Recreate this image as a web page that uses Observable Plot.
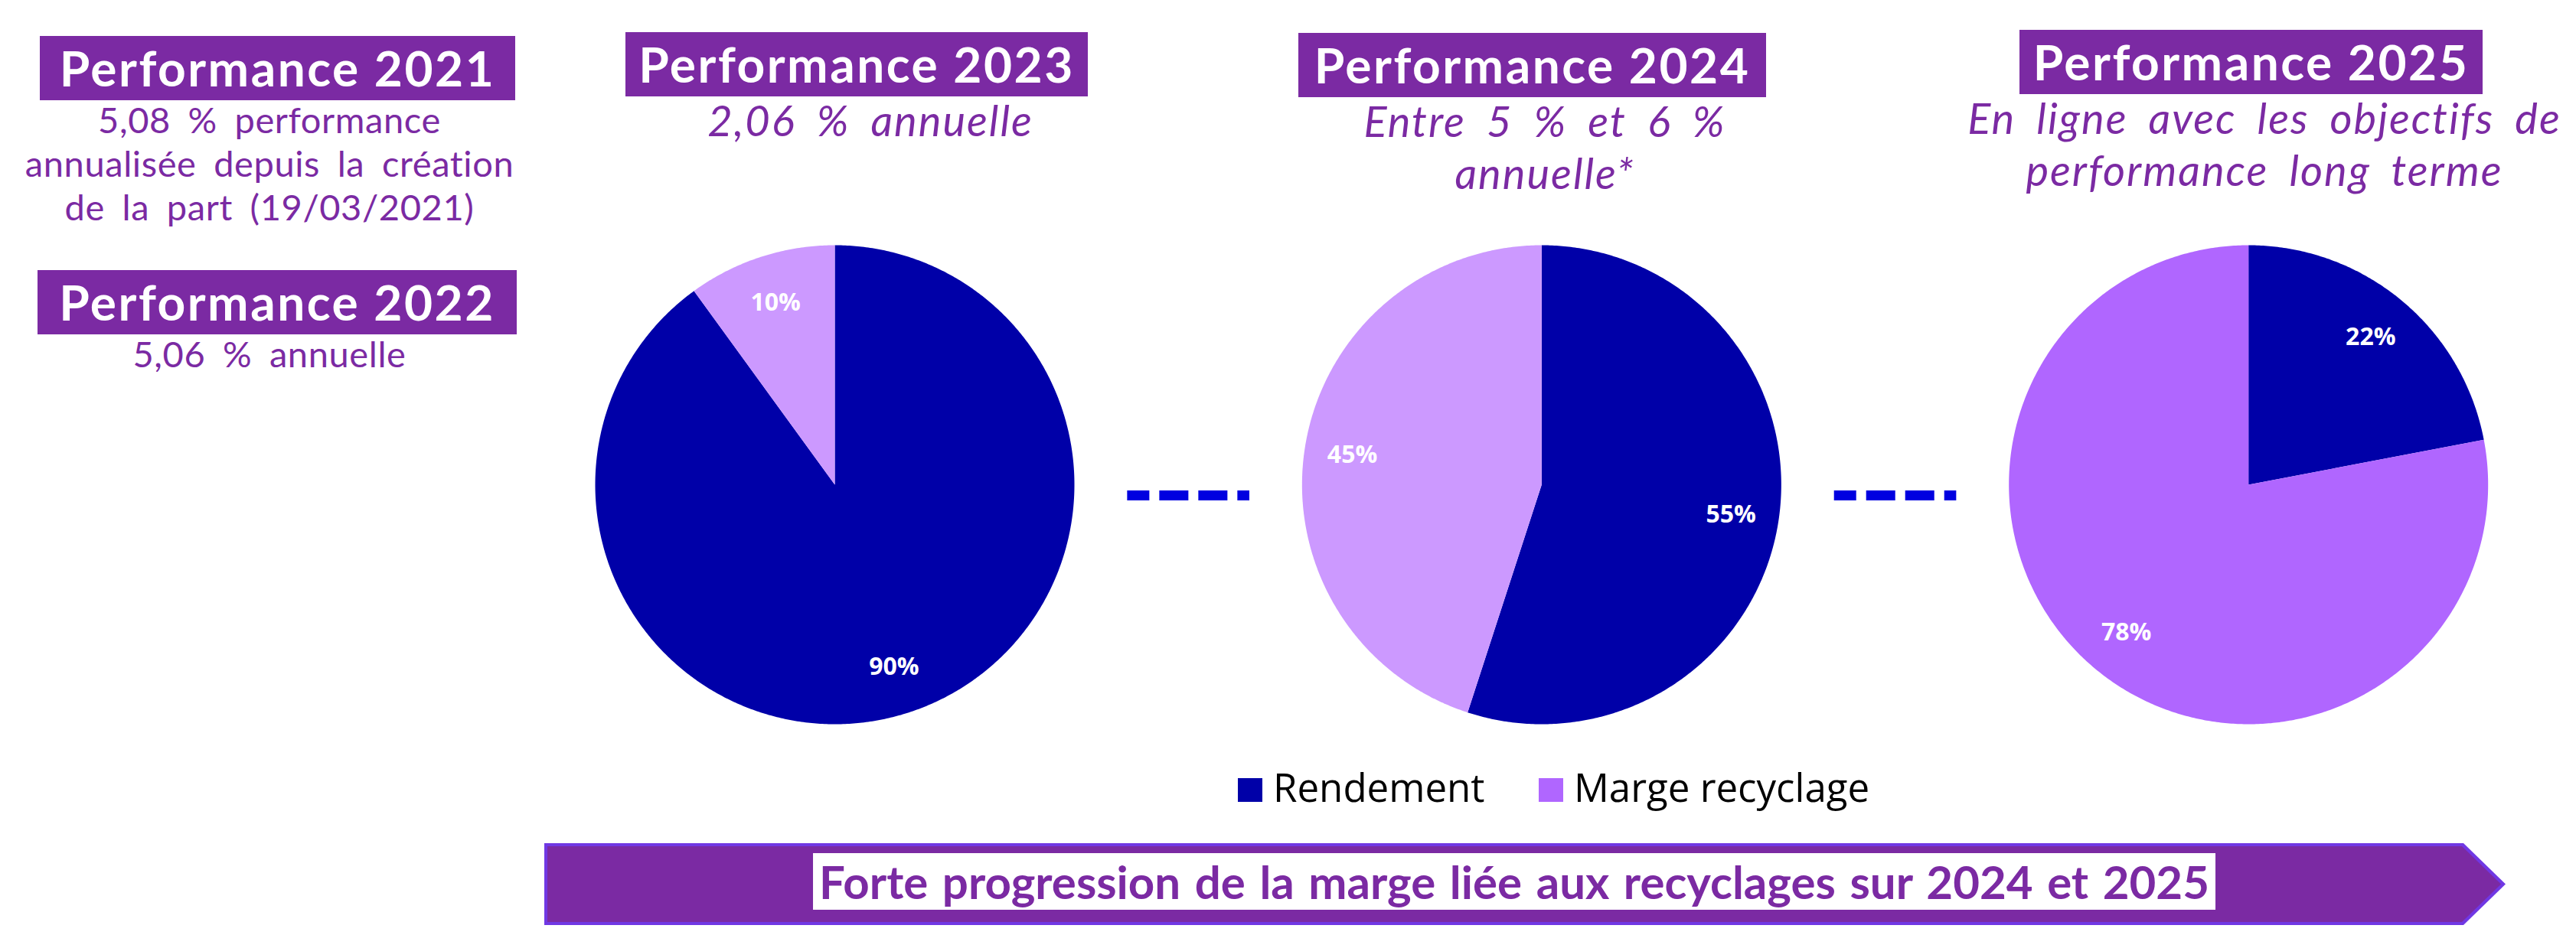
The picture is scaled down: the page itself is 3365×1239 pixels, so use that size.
<!DOCTYPE html>
<html>
<head>
<meta charset="utf-8">
<script src="https://cdn.jsdelivr.net/npm/d3@7"></script>
<script src="https://cdn.jsdelivr.net/npm/@observablehq/plot@0.6"></script>
<style>
  html, body { margin: 0; padding: 0; background: #fff; }
  #page { position: relative; width: 3365px; height: 1239px; overflow: hidden; font-family: Lato, sans-serif; }
  #chart { position: absolute; left: 0; top: 0; }
  .box { position: absolute; background: #7B2AA3; color: #fff; font-weight: 700; font-size: 64px;
         line-height: 84px; height: 84px; text-align: center; white-space: nowrap; letter-spacing: 2.5px; }
  .sub { position: absolute; color: #7B2AA3; text-align: center; white-space: nowrap; transform: translateX(-50%); }
  .sub.reg { font-size: 47px; line-height: 57px; word-spacing: 10px; letter-spacing: 0.6px; }
  .sub.ital { font-size: 56px; line-height: 68px; font-style: italic; word-spacing: 12px; letter-spacing: 2px; }
  .sw { position: absolute; width: 32px; height: 31px; top: 1017px; }
  .lg { position: absolute; top: 1003px; font-family: "Open Sans", sans-serif; font-size: 51px; line-height: 70px; color: #000; white-space: nowrap; }
  #arrowOuter { position: absolute; left: 711px; top: 1102px; width: 2562px; height: 107px; background: #7038E4;
                clip-path: polygon(0 0, 2507px 0, 100% 50%, 2507px 100%, 0 100%); }
  #arrowInner { position: absolute; left: 715px; top: 1106px; width: 2552px; height: 99px; background: #7B2AA3;
                clip-path: polygon(0 0, 2501px 0, 100% 50%, 2501px 100%, 0 100%); }
  #banner { position: absolute; left: 1978px; top: 1115px; transform: translateX(-50%); background: #fff; color: #7B2AA3;
            font-weight: 700; font-size: 60px; line-height: 74px; height: 74px; white-space: nowrap; padding: 0 8px; word-spacing: 4px; }
</style>
</head>
<body>
<div id="page"></div>
<script>
// ---------- data ----------
const years = ["2023", "2024", "2025"];
const series = ["Rendement", "Marge recyclage"];
const rendement = [90, 55, 22];
const marge = [10, 45, 78];

const headings = ["Performance 2021", "Performance 2022", "Performance 2023", "Performance 2024", "Performance 2025"];
const sub2021 = ["5,08 % performance", "annualisée depuis la création", "de la part (19/03/2021)"];
const sub2022 = ["5,06 % annuelle"];
const sub2023 = ["2,06 % annuelle"];
const sub2024 = ["Entre 5 % et 6 %", "annuelle*"];
const sub2025 = ["En ligne avec les objectifs de", "performance long terme"];
const bannerText = "Forte progression de la marge liée aux recyclages sur 2024 et 2025";

// ---------- styles ----------
const colorRendement = "#0000A8";
const colorMarge = ["#CC99FF", "#CC99FF", "#B066FF"];
const legendColors = ["#0000A8", "#B066FF"];
const SPACING = 2.95;     // distance between pie centres, in pie radii
const LABEL_R = 0.8;      // label distance from centre, in pie radii

// ---------- build slices ----------
const slices = [];
years.forEach((yr, i) => {
  const vals = [rendement[i], marge[i]];
  const total = d3.sum(vals);
  let acc = 0;
  vals.forEach((v, j) => {
    const a0 = acc / total * 2 * Math.PI;
    const a1 = (acc + v) / total * 2 * Math.PI;
    acc += v;
    slices.push({year: yr, idx: i, series: series[j], value: v, a0, a1,
                 color: j === 0 ? colorRendement : colorMarge[i]});
  });
});
const poly = [];
slices.forEach((s, k) => {
  const cx = s.idx * SPACING;
  poly.push({k, x: cx, y: 0, color: s.color});
  const n = Math.max(2, Math.ceil((s.a1 - s.a0) / (Math.PI / 360)));
  for (let t = 0; t <= n; t++) {
    const a = s.a0 + (s.a1 - s.a0) * t / n;
    poly.push({k, x: cx + Math.sin(a), y: Math.cos(a), color: s.color});
  }
});
const labels = slices.map(s => {
  const m = (s.a0 + s.a1) / 2;
  return {x: s.idx * SPACING + LABEL_R * Math.sin(m), y: LABEL_R * Math.cos(m), text: s.value + "%"};
});
const connectors = d3.pairs(years.map((y, i) => i * SPACING)).map(([a, b]) => {
  const mid = (a + b) / 2;
  return {x1: mid - 0.255, x2: mid + 0.255, y: -0.045};
});

// ---------- plot ----------
const R = 313, CX = 1090, CY = 633, W = 3365, H = 1239;
const chart = Plot.plot({
  width: W, height: H, margin: 0,
  x: {domain: [-CX / R, (W - CX) / R], axis: null},
  y: {domain: [-(H - CY) / R, CY / R], axis: null},
  color: {type: "identity"},
  style: {background: "transparent"},
  marks: [
    Plot.line(poly, {x: "x", y: "y", z: "k", fill: "color", stroke: "none", curve: "linear-closed"}),
    Plot.text(labels, {x: "x", y: "y", text: "text", fill: "white", fontSize: 32, fontWeight: 700,
                       fontFamily: "Open Sans, sans-serif"}),
    Plot.link(connectors, {x1: "x1", x2: "x2", y1: "y", y2: "y", stroke: "#0000E0", strokeWidth: 13,
                           strokeDasharray: "38,13", strokeDashoffset: 9, strokeLinecap: "butt"})
  ]
});
chart.id = "chart";
const page = document.getElementById("page");
page.appendChild(chart);

// ---------- text overlays ----------
function el(cls, html, style) {
  const d = document.createElement("div");
  d.className = cls; d.innerHTML = html;
  Object.assign(d.style, style);
  page.appendChild(d);
  return d;
}
const boxLayout = [
  {left: 52, top: 47, width: 621},
  {left: 49, top: 353, width: 626},
  {left: 817, top: 42, width: 604},
  {left: 1696, top: 43, width: 611},
  {left: 2638, top: 39, width: 605}
];
headings.forEach((h, i) => {
  const b = boxLayout[i];
  el("box", h, {left: b.left + "px", top: b.top + "px", width: b.width + "px"});
});
el("sub reg", sub2021.join("<br>"), {left: "352px", top: "128px"});
el("sub reg", sub2022.join("<br>"), {left: "352px", top: "434px"});
el("sub ital", sub2023.join("<br>"), {left: "1137px", top: "123px"});
el("sub ital", sub2024.join("<br>"), {left: "2018px", top: "124px"});
el("sub ital", sub2025.join("<br>"), {left: "2958px", top: "120px"});

// legend
const legendLayout = [{sw: 1617, tx: 1663}, {sw: 2010, tx: 2056}];
series.forEach((s, i) => {
  el("sw", "", {left: legendLayout[i].sw + "px", background: legendColors[i]});
  el("lg", s, {left: legendLayout[i].tx + "px", top: "993px"});
});

// banner arrow
el("", "", {}).id = "arrowOuter";
el("", "", {}).id = "arrowInner";
el("", bannerText, {}).id = "banner";
</script>
</body>
</html>
